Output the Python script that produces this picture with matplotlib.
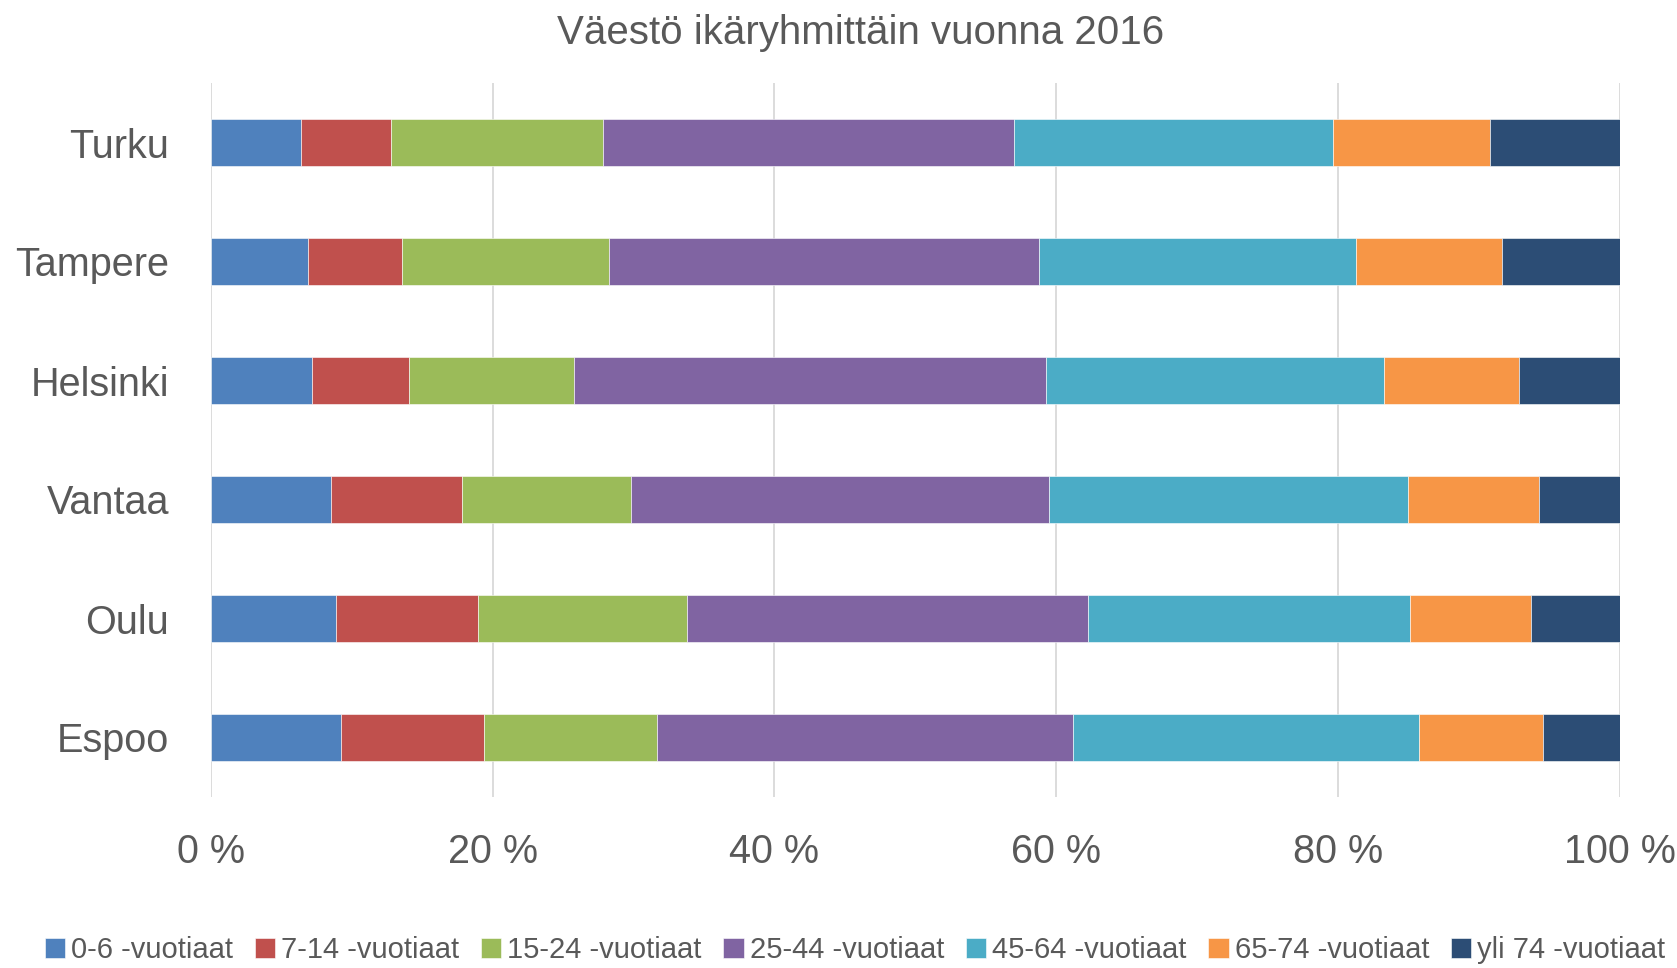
import matplotlib
matplotlib.use("Agg")
import matplotlib.pyplot as plt
from matplotlib import font_manager
import numpy as np

cities = ["Turku", "Tampere", "Helsinki", "Vantaa", "Oulu", "Espoo"]
groups = ["0-6 -vuotiaat", "7-14 -vuotiaat", "15-24 -vuotiaat", "25-44 -vuotiaat",
          "45-64 -vuotiaat", "65-74 -vuotiaat", "yli 74 -vuotiaat"]
# percentages per city (same order as cities)
g0_6 = [6.40, 6.89, 7.18, 8.55, 8.90, 9.28]
g7_14 = [6.42, 6.71, 6.89, 9.30, 10.08, 10.13]
g15_24 = [15.02, 14.69, 11.72, 11.97, 14.82, 12.28]
g25_44 = [29.19, 30.51, 33.45, 29.67, 28.47, 29.51]
g45_64 = [22.62, 22.50, 24.01, 25.47, 22.85, 24.55]
g65_74 = [11.15, 10.33, 9.61, 9.32, 8.59, 8.78]
g75 = [9.20, 8.37, 7.14, 5.72, 6.29, 5.47]
series = [g0_6, g7_14, g15_24, g25_44, g45_64, g65_74, g75]
colors = ["#4F81BD", "#C0504D", "#9BBB59", "#8064A2", "#4BACC6", "#F79646", "#2C4D75"]
xticks = [0, 20, 40, 60, 80, 100]
xticklabels = ["0 %", "20 %", "40 %", "60 %", "80 %", "100 %"]

names = {f.name for f in font_manager.fontManager.ttflist}
fam = "Liberation Sans Narrow" if "Liberation Sans Narrow" in names else "Liberation Sans"
plt.rcParams["font.family"] = [fam, "DejaVu Sans"]
txt = "#595959"

W, H = 1677, 968
fig = plt.figure(figsize=(W / 100, H / 100), dpi=100)
left, right, top, bottom = 210.7, 1620, 83, 797
ax = fig.add_axes([left / W, 1 - bottom / H, (right - left) / W, (bottom - top) / H])

data = np.array(series)
totals = data.sum(axis=0)
data = data / totals * 100
y = np.arange(len(cities))
cum = np.zeros(len(cities))
handles = []
for vals, c, lab in zip(data, colors, groups):
    h = ax.barh(y, vals, left=cum, height=0.4, color=c, edgecolor="white",
                linewidth=0.4, label=lab, zorder=3)
    handles.append(h)
    cum += vals

ax.set_ylim(5.5, -0.5)
ax.set_xlim(0, 100)
ax.set_yticks(y)
ax.set_yticklabels(cities, fontsize=28.5, color=txt)
ax.set_xticks(xticks)
ax.set_xticklabels(xticklabels, fontsize=28.5, color=txt)
ax.tick_params(axis="y", length=0, pad=30)
ax.tick_params(axis="x", length=0, pad=26)
ax.grid(axis="x", color="#D9D9D9", linewidth=1.3, zorder=0)
for s in ax.spines.values():
    s.set_visible(False)

fig.text(861 / W, 1 - 33 / H, "Väestö ikäryhmittäin vuonna 2016", ha="center",
         va="center", fontsize=29, color=txt)

leg = fig.legend(handles=handles, labels=groups, loc="center",
                 bbox_to_anchor=(855 / W, 1 - 950 / H), ncol=7, frameon=False,
                 fontsize=21, handlelength=0.7, handleheight=0.7,
                 handletextpad=0.2, columnspacing=0.75, labelcolor=txt)

fig.savefig("out.png", dpi=100)
